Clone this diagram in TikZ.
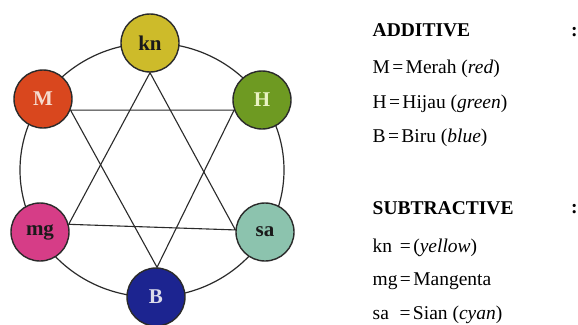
\documentclass[tikz,border=0pt]{standalone}
\usepackage{fontspec}
\setmainfont{Liberation Serif}
\usetikzlibrary{backgrounds}
\definecolor{cKn}{HTML}{CDBB2A}
\definecolor{cM}{HTML}{D9471E}
\definecolor{cH}{HTML}{6E9A22}
\definecolor{cMg}{HTML}{D63D87}
\definecolor{cSa}{HTML}{8CC3AE}
\definecolor{cB}{HTML}{1C2490}
\definecolor{tLightM}{HTML}{F6DCCF}
\definecolor{tLightH}{HTML}{EAF3C4}
\definecolor{tLightB}{HTML}{DCDCEA}
\definecolor{tDark}{HTML}{1A1A1A}
\definecolor{lineC}{HTML}{2A2A2A}
\newcommand{\eqs}{\hspace{0.12em}=\hspace{0.12em}}
\begin{document}
\begin{tikzpicture}[x=1pt,y=-1pt,
  colnode/.style={circle, draw=lineC, line width=1.4pt, minimum size=58pt, inner sep=0pt,
    font=\fontsize{21}{21}\selectfont\bfseries},
  conn/.style={draw=lineC, line width=1.1pt},
  ring/.style={draw=lineC, line width=1.2pt},
  legend/.style={anchor=base west, inner sep=0pt, font=\fontsize{19.5}{19.5}\selectfont},
  legendhead/.style={legend, font=\fontsize{19.5}{19.5}\selectfont\bfseries}]
\useasboundingbox (0,0) rectangle (578,324);
\fill[white] (0,0) rectangle (578,324);
% ring
\draw[ring] (152,170) ellipse [x radius=132, y radius=127];
% colour nodes
\node[colnode, fill=cKn, text=tDark] (kn) at (150,43) {kn};
\node[colnode, fill=cM, text=tLightM] (M) at (43,99) {M};
\node[colnode, fill=cH, text=tLightH] (H) at (262,100) {H};
\node[colnode, fill=cMg, text=tDark] (mg) at (40,232) {mg};
\node[colnode, fill=cSa, text=tDark] (sa) at (265,232) {sa};
\node[colnode, fill=cB, text=tLightB] (B) at (156,297) {B};
% hexagram
\draw[conn] (kn.south) -- (mg.15) -- (sa.176) -- cycle;
\draw[conn] (M.-22) -- (H.200) -- (B.88) -- cycle;
% legend
\node[legendhead] (addh) at (372.5,36) {ADDITIVE};
\node[legend] (l1) at (372.5,73) {M\eqs Merah (\textit{red})};
\node[legend] (l2) at (372.5,108) {H\eqs Hijau (\textit{green})};
\node[legend] (l3) at (372.5,142) {B\eqs Biru (\textit{blue})};
\node[legendhead] (subh) at (372.5,214) {SUBTRACTIVE};
\node[legend] (l4) at (372.5,252) {kn\hspace{0.4em}=\hspace{0.12em}(\textit{yellow})};
\node[legend] (l5) at (372.5,285) {mg\eqs Mangenta};
\node[legend] (l6) at (372.5,319) {sa\hspace{0.55em}=\hspace{0.12em}Sian (\textit{cyan})};
\node[legendhead] (c1) at (571,36) {:};
\node[legendhead] (c2) at (571,213) {:};
\end{tikzpicture}
\end{document}
